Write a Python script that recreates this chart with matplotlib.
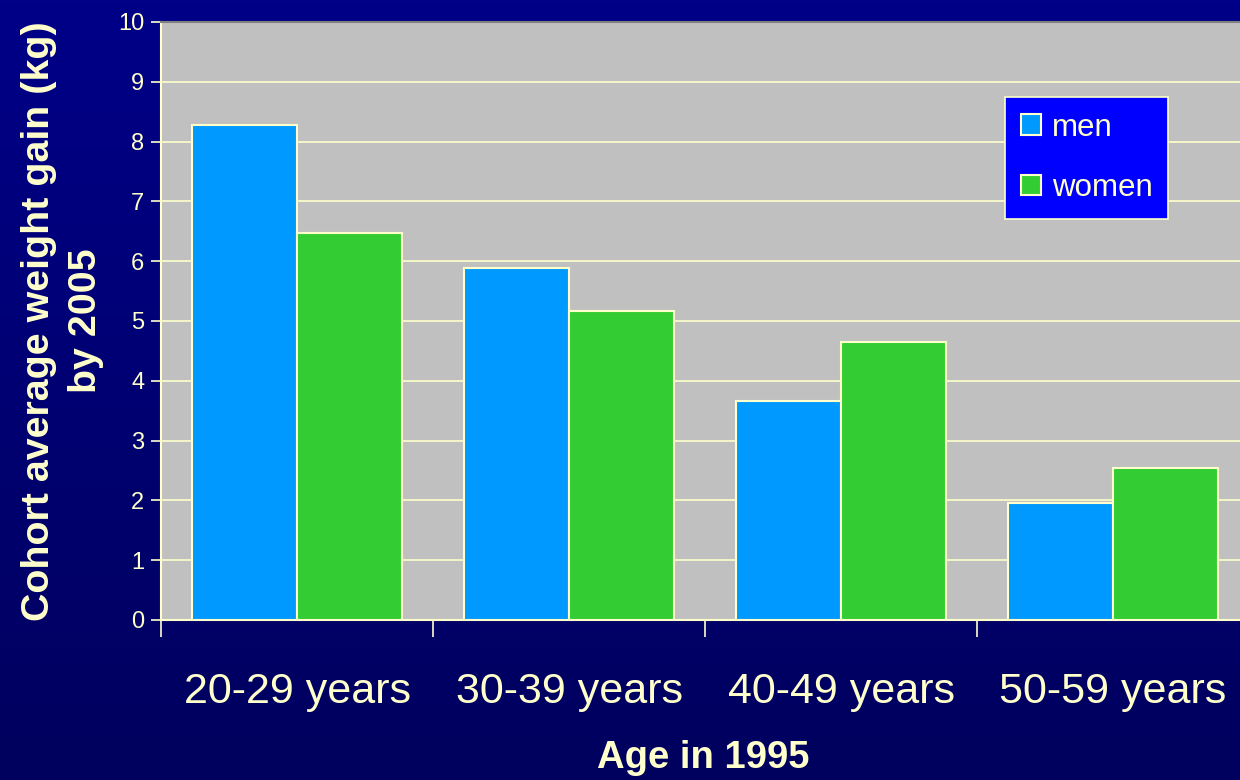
import matplotlib.pyplot as plt
import numpy as np

# Data
age_groups = ['20-29 years', '30-39 years', '40-49 years', '50-59 years']
men_gain = [8.28, 5.89, 3.66, 1.96]
women_gain = [6.47, 5.17, 4.65, 2.54]

CREAM = '#FFFFCC'
MEN_COLOR = '#0099FF'
WOMEN_COLOR = '#33CC33'
PLOT_BG = '#C0C0C0'

plt.rcParams['font.family'] = ['Liberation Sans', 'DejaVu Sans']

W, H = 1240, 780
fig = plt.figure(figsize=(W / 100, H / 100), dpi=100)

# Navy vertical gradient behind everything
bg = fig.add_axes([0, 0, 1, 1], zorder=-10)
grad = np.linspace(0, 1, 256).reshape(-1, 1)
top = np.array([0, 0, 0x88]) / 255
bottom = np.array([0, 0, 0x5E]) / 255
img = top + (bottom - top) * grad[..., None]
bg.imshow(img, aspect='auto', extent=[0, 1, 0, 1])
bg.axis('off')

# Plot area in pixels: left 161, top 22, bottom 620, one group = 272 px
left, top_px, bottom_px, group_px = 161, 22, 620, 272
ax = fig.add_axes([left / W, (H - bottom_px) / H,
                   group_px * len(age_groups) / W, (bottom_px - top_px) / H])
ax.set_facecolor(PLOT_BG)

x = np.arange(len(age_groups))
width = 0.385
ax.bar(x - width / 2, men_gain, width, color=MEN_COLOR, edgecolor=CREAM,
       linewidth=1.5, label='men', zorder=3)
ax.bar(x + width / 2, women_gain, width, color=WOMEN_COLOR, edgecolor=CREAM,
       linewidth=1.5, label='women', zorder=3)

ax.set_xlim(-0.5, len(age_groups) - 0.5)
ax.set_ylim(0, 10)
ax.set_yticks(range(0, 11))
ax.yaxis.grid(True, color=CREAM, linewidth=1.2, zorder=1)
ax.set_axisbelow(True)

# Category ticks sit on the group boundaries
ax.set_xticks(np.arange(len(age_groups) + 1) - 0.5)
ax.set_xticklabels([])
ax.set_xticks(x, minor=True)
ax.set_xticklabels(age_groups, minor=True, fontsize=31, color=CREAM)
ax.tick_params(axis='x', which='minor', length=0, pad=37.5)
ax.tick_params(axis='x', which='major', length=12, width=1.2, color=CREAM)
ax.tick_params(axis='y', length=7, width=1.2, color=CREAM, labelcolor=CREAM,
               labelsize=17, pad=5)

for side in ['left', 'bottom']:
    ax.spines[side].set_color(CREAM)
    ax.spines[side].set_linewidth(1.5)
ax.spines['top'].set_color('#808080')
ax.spines['top'].set_linewidth(1.5)
ax.spines['right'].set_visible(False)

ax.set_ylabel('Cohort average weight gain (kg)\nby 2005', fontsize=28.4,
              fontweight='bold', color=CREAM, labelpad=10, linespacing=1.4)
fig.text(703 / W, 1 - 758 / H, 'Age in 1995', fontsize=27.5, fontweight='bold',
         color=CREAM, ha='center', va='center')

leg = ax.legend(loc='upper left', bbox_to_anchor=(1005 / W, 1 - 97 / H),
                bbox_transform=fig.transFigure, fontsize=22.5, frameon=True,
                fancybox=False, framealpha=1, facecolor='#0000FF',
                edgecolor=CREAM, labelcolor=CREAM, handlelength=0.65,
                handleheight=0.65, handletextpad=0.35, labelspacing=0.97,
                borderpad=0.5, borderaxespad=0)
leg.get_frame().set_linewidth(1.2)
for patch in leg.get_patches():
    patch.set_edgecolor(CREAM)
    patch.set_linewidth(1.5)

fig.savefig('out.png', dpi=100)
